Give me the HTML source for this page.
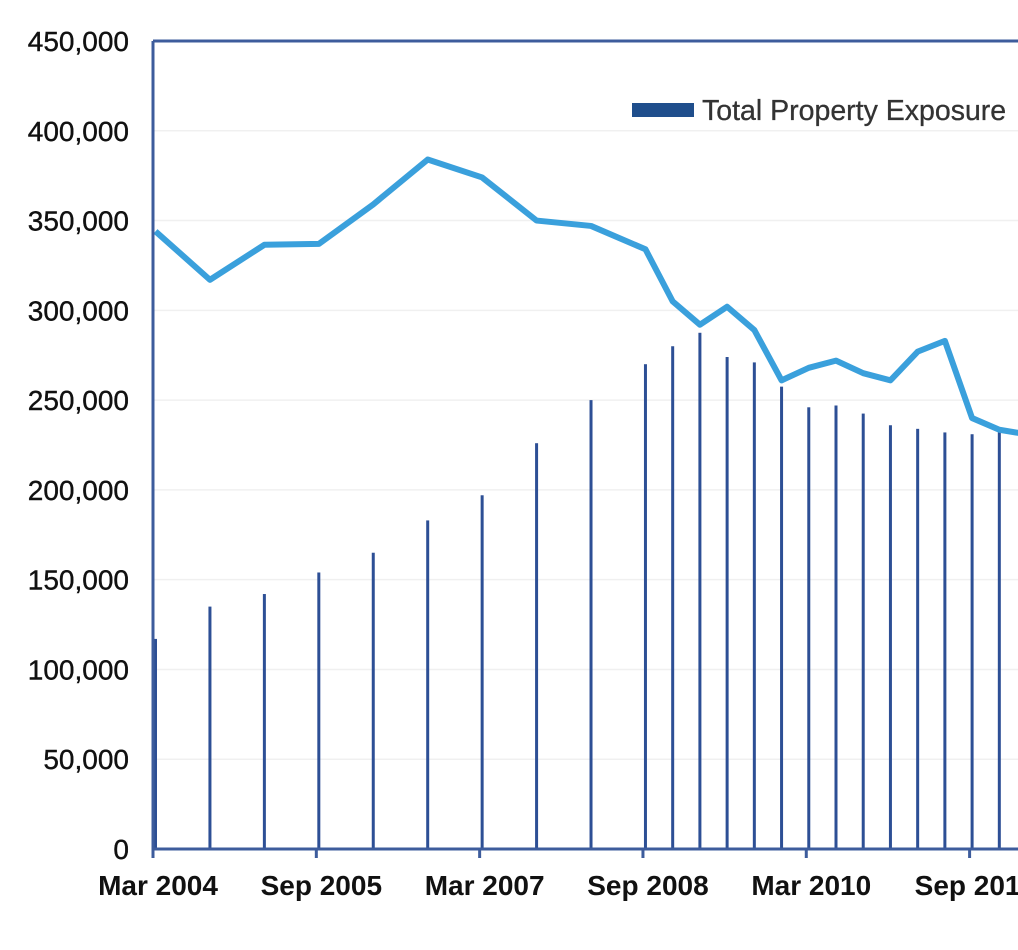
<!DOCTYPE html>
<html><head><meta charset="utf-8"><style>
body{margin:0;background:#fff;}
svg{display:block;font-family:"Liberation Sans",Arial,sans-serif;}
</style></head><body>
<svg id="chart" width="1018" height="950" viewBox="0 0 1018 950">
<g id="grid"></g>
<g id="bars"></g>
<path id="line" fill="none" stroke="#3aa0dc" stroke-width="6" stroke-linejoin="round"/>
<line x1="153" y1="41" x2="1018" y2="41" stroke="#3d5c9c" stroke-width="3"/>
<line x1="153" y1="41" x2="153" y2="857" stroke="#3d5c9c" stroke-width="3"/>
<line x1="153" y1="849" x2="1018" y2="849" stroke="#3d5c9c" stroke-width="3"/>
<g id="yticks"></g>
<g id="xticks"></g>
<g>
<rect x="632" y="103" width="62" height="14" fill="#1f4e8c"/>
<text x="702" y="120" font-size="28.5" fill="#333" stroke="#333" stroke-width="0.3">Total Property Exposure</text>
</g>
</svg>
<script>
const yTicks=[0,50000,100000,150000,200000,250000,300000,350000,400000,450000];
const xLabels=["Mar 2004","Sep 2005","Mar 2007","Sep 2008","Mar 2010","Sep 2011"];
const xLabelIdx=[0,6,12,18,24,30];
const barIdx=[0,2,4,6,8,10,12,14,16,18,19,20,21,22,23,24,25,26,27,28,29,30,31];
const barVals=[117000,135000,142000,154000,165000,183000,197000,226000,250000,270000,280000,287500,274000,271000,257500,246000,247000,242500,236000,234000,232000,231000,232000];
const lineIdx=[0,2,4,6,8,10,12,14,16,18,19,20,21,22,23,24,25,26,27,28,29,30,31,32];
const lineVals=[344000,317000,336500,337000,359000,384000,374000,350000,347000,334000,305000,292000,302000,289000,261000,268000,272000,265000,261000,277000,283000,240000,233500,231000];
const NS="http://www.w3.org/2000/svg";
const yS=v=>849-v*(808/450000);
const xS=i=>153+i*27.22;
const grid=document.getElementById('grid'),yt=document.getElementById('yticks'),xt=document.getElementById('xticks'),bars=document.getElementById('bars');
yTicks.forEach(v=>{
 if(v>0&&v<450000){const l=document.createElementNS(NS,'line');
 l.setAttribute('x1',153);l.setAttribute('x2',1018);l.setAttribute('y1',yS(v));l.setAttribute('y2',yS(v));
 l.setAttribute('stroke','#f0f0f0');l.setAttribute('stroke-width','1.5');
 
 
 grid.appendChild(l);}
 const t=document.createElementNS(NS,'text');
 t.setAttribute('x',129);t.setAttribute('y',yS(v)+10);t.setAttribute('text-anchor','end');t.setAttribute('font-size','28');t.setAttribute('fill','#111');t.setAttribute('stroke','#111');t.setAttribute('stroke-width','0.4');
 t.textContent=v.toLocaleString('en-US');
 
 
 yt.appendChild(t);
});
xLabels.forEach((s,k)=>{
 const x=xS(xLabelIdx[k]);
 const l=document.createElementNS(NS,'line');
 l.setAttribute('x1',x);l.setAttribute('x2',x);l.setAttribute('y1',849);l.setAttribute('y2',858);l.setAttribute('stroke','#3d5c9c');l.setAttribute('stroke-width','3');
 
 
 xt.appendChild(l);
 const t=document.createElementNS(NS,'text');
 t.setAttribute('x',x+5);t.setAttribute('y',895);t.setAttribute('text-anchor','middle');t.setAttribute('font-size','28');t.setAttribute('font-weight','bold');t.setAttribute('fill','#111');
 t.textContent=s;
 
 
 xt.appendChild(t);
});
barVals.forEach((v,k)=>{
 const x=xS(barIdx[k])+2.5;
 const r=document.createElementNS(NS,'rect');
 r.setAttribute('x',x-1.5);r.setAttribute('width',3);r.setAttribute('y',yS(v));r.setAttribute('height',849-yS(v));r.setAttribute('fill','#2d4f95');
 
 
 bars.appendChild(r);
});
document.getElementById('line').setAttribute('d',lineVals.map((v,k)=>(k?'L':'M')+(xS(lineIdx[k])+2.5)+','+yS(v)).join(' '));
</script>
</body></html>
